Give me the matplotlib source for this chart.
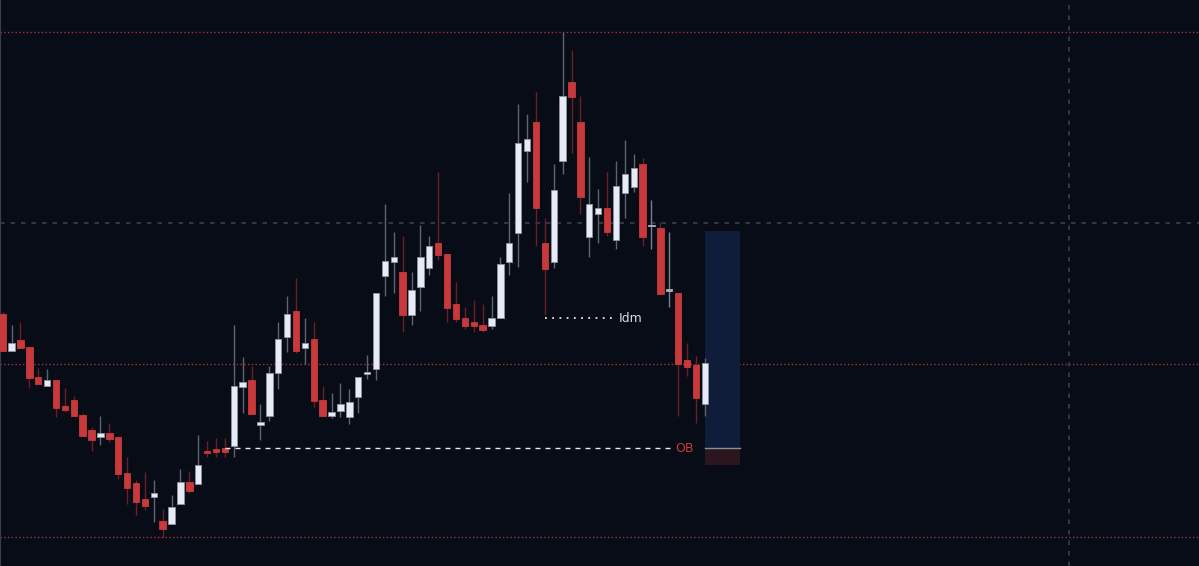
import matplotlib
matplotlib.use('Agg')
import matplotlib.pyplot as plt
import numpy as np

# OHLC values (price units, no axis shown)
opens = [252, 215.3, 226.3, 219, 188.7, 180.3, 186, 159.7, 166, 151,
         136, 129.3, 133, 128.7, 93, 83, 67, 69.3, 44.7, 41.7,
         61.7, 84, 82.3, 115, 117, 117.7, 120.3, 179.3, 186, 141,
         150, 193.3, 229.3, 255, 218.3, 226.7, 166, 150.3, 155.3, 149.3,
         169.3, 191.7, 197, 289.7, 304, 294.3, 251.3, 279.3, 297.7, 323,
         312.3, 262.3, 248, 244.3, 240.7, 239.7, 247.7, 304.3, 333.3, 415.3,
         444.3, 322.7, 304.3, 405.3, 484, 444.3, 329.3, 351.7, 358.3, 326,
         373.3, 379.3, 402, 340.3, 337.7, 276, 272.7, 206, 201, 161.7]
highs = [254, 241, 244.3, 219, 198, 197, 186, 178.3, 169.7, 152.7,
         138.7, 150, 142.7, 130, 108.7, 86, 94.3, 86, 56.7, 71,
         97, 95.3, 131, 125, 128.3, 127.7, 241, 208.7, 200.3, 161.7,
         200.3, 244.3, 270, 287.7, 247.7, 243.7, 180, 172.7, 182.7, 177,
         189, 211, 273, 362.3, 334, 330, 294.3, 340.7, 330, 394.3,
         312.3, 284.3, 258.7, 266, 262, 270, 308.7, 373.3, 462, 451.7,
         473.7, 347.7, 402, 533.7, 516, 469.7, 408.7, 376.7, 394, 405.3,
         426, 412, 408.3, 366, 344, 333.7, 272.7, 222.7, 210.3, 207.7]
lows = [215, 215, 218.3, 178.3, 182, 180, 148.7, 154.3, 150.3, 130.3,
        115.3, 121, 124.3, 87, 61.7, 51, 56, 44.3, 28.7, 41.7,
        61.7, 73.3, 82.3, 109.3, 109.3, 109.3, 109.3, 153.3, 152, 126,
        145.3, 177, 214.3, 212.7, 201.7, 159.3, 150.3, 147.7, 149.3, 141.7,
        153.3, 187, 186, 270.3, 273, 234.3, 241, 255.3, 291, 306,
        244.3, 244.3, 237, 234.3, 234.3, 237, 247.7, 291, 298.7, 384.3,
        320.3, 251, 298.3, 391.7, 412.7, 352, 308.7, 323.3, 330.3, 316.7,
        348.3, 374.3, 320, 316.7, 272, 258.7, 150.3, 190, 142.7, 150.3]
closes = [215, 222.7, 218.3, 187.7, 182.3, 186, 157.7, 155.7, 150.3, 130.3,
          126.3, 133, 127, 91.7, 78.3, 64.3, 60.3, 72.7, 37, 59.3,
          84, 75.3, 101, 113, 114.3, 114.3, 180, 184, 152, 144.3,
          192.7, 226.7, 252, 215, 222.7, 165.3, 150.3, 153.7, 161.7, 164,
          188.7, 194.3, 272.7, 304.7, 308.7, 251.3, 276.3, 308.7, 320, 311.3,
          257.7, 247.3, 239.7, 239.7, 236, 248, 301.7, 322.7, 423.3, 426.7,
          357.7, 297.3, 376, 469.7, 469.3, 369.3, 362.3, 358.3, 333.7, 380,
          391.7, 397.7, 329.3, 340.3, 272, 276, 202, 199.3, 168.3, 202.7]

# marked levels
red_levels = [533.7, 202, 28.7]
gray_level = 343
vline_idx = 120
idm_price, idm_start, idm_end = 248, 61, 68.7
ob_price, ob_start, ob_end = 117.7, 25, 75.1
zone_x0, zone_x1 = 79, 83
zone_top, zone_bottom = 335, 101

bg = '#080c16'
red = '#c8393b'
white = '#e6ebf5'

fig = plt.figure(figsize=(11.99, 5.66), dpi=100)
fig.patch.set_facecolor(bg)
ax = fig.add_axes([0, 0, 1, 1])
ax.set_facecolor(bg)

x = np.arange(len(opens))
o = np.array(opens); c = np.array(closes); h = np.array(highs); l = np.array(lows)

# level lines
for lv in red_levels:
    ax.axhline(lv, color='#a8323a', lw=1, linestyle=(0, (1, 1.7)), zorder=1)
ax.axhline(gray_level, color='#3a3f4b', lw=1.2, linestyle=(0, (2.7, 3.6)), zorder=1)
ax.axvline(vline_idx, color='#3a3f4b', lw=1.2, linestyle=(0, (2.7, 3.6)), zorder=1)
ax.axvline(-0.3, color='#3a3e48', lw=1.5, zorder=1)

# order block zone
ax.fill_between([zone_x0, zone_x1], ob_price, zone_top, color='#0f1d3a', zorder=2, lw=0)
ax.fill_between([zone_x0, zone_x1], zone_bottom, ob_price, color='#2a161c', zorder=2, lw=0)
ax.plot([zone_x0, zone_x1], [ob_price, ob_price], color='#8a8f99', lw=1, zorder=3)

for i in x:
    up = c[i] > o[i]
    doji = abs(c[i] - o[i]) < 0.5
    if doji:
        wc, fc, ec = '#7a808c', '#aab0bd', '#aab0bd'
    elif up:
        wc, fc, ec = '#5d6370', white, '#8d93a0'
    else:
        wc, fc, ec = '#6b1f25', red, red
    ax.vlines(i, l[i], h[i], color=wc, lw=1, zorder=4)
    bottom = min(o[i], c[i])
    height = max(abs(c[i] - o[i]), 1.5)
    if doji:
        bottom -= 0.75
    ax.bar(i, height, bottom=bottom, width=0.72, color=fc, edgecolor=ec,
           linewidth=0.6, zorder=5)

# Idm and OB markers
ax.plot([idm_start, idm_end], [idm_price, idm_price], color='#e6e9f0', lw=1.3,
        linestyle=(0, (1, 3)), zorder=6)
ax.text(idm_end + 0.6, idm_price, 'Idm', color='#d8dce6', fontsize=9,
        va='center', ha='left', zorder=6)
ax.plot([ob_start, ob_end], [ob_price, ob_price], color='#e6e9f0', lw=1,
        linestyle=(0, (3.6, 3.6)), zorder=6)
ax.text(ob_end + 0.6, ob_price, 'OB', color=red, fontsize=9,
        va='center', ha='left', zorder=6)

ax.set_xlim(-0.3, 134.6)
ax.set_ylim(0, 566)
ax.axis('off')

plt.savefig('out.png', dpi=100, facecolor=bg)
plt.close()
